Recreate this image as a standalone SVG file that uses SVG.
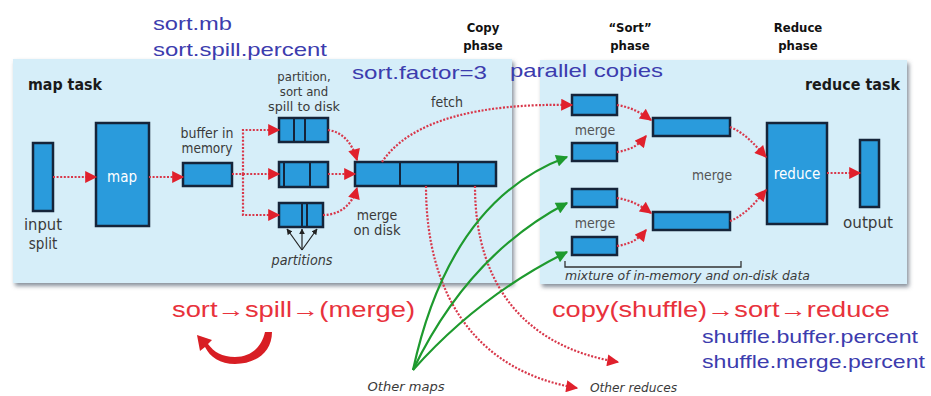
<svg xmlns="http://www.w3.org/2000/svg" width="931" height="396" viewBox="0 0 931 396">
<style>
.panel{fill:#d6eef9}
.box{fill:#2a9bdc;stroke:#15243a;stroke-width:2.5}
.div{stroke:#15243a;stroke-width:2}
.red{fill:none;stroke:#d8374a;stroke-width:2.2;stroke-dasharray:2 1.6}
.grn{fill:none;stroke:#1e9a2e;stroke-width:2.2}
.lbl{font-family:"DejaVu Sans Condensed","Liberation Sans Narrow","Liberation Sans",sans-serif;font-size:14px;fill:#3a3a3a;text-anchor:middle}
.it{font-style:italic}
.hd{font-family:"DejaVu Sans Condensed","Liberation Sans",sans-serif;font-size:13px;font-weight:bold;fill:#111;text-anchor:middle}
.task{font-family:"DejaVu Sans Condensed","Liberation Sans",sans-serif;font-size:15px;font-weight:bold;fill:#1a1a1a}
.wt{font-family:"DejaVu Sans Condensed","Liberation Sans",sans-serif;font-size:15px;fill:#ffffff;text-anchor:middle}
.blue{font-family:"Liberation Sans",Arial,sans-serif;font-size:19px;fill:#3c3cae}
.rt{font-family:"Liberation Sans",Arial,sans-serif;font-size:22px;fill:#e8323c}
</style>
<defs>
<filter id="sh" x="-5%" y="-5%" width="110%" height="115%">
<feDropShadow dx="2" dy="3" stdDeviation="2" flood-color="#556070" flood-opacity="0.7"/>
</filter>
<marker id="ra" viewBox="0 0 10 10" refX="9" refY="5" markerWidth="13" markerHeight="12" markerUnits="userSpaceOnUse" orient="auto">
<path d="M0,0 L10,5 L0,10 z" fill="#e0202c"/>
</marker>
<marker id="ga" viewBox="0 0 10 10" refX="9" refY="5" markerWidth="13" markerHeight="12" markerUnits="userSpaceOnUse" orient="auto">
<path d="M0,0 L10,5 L0,10 z" fill="#1e9a2e"/>
</marker>
<marker id="ka" viewBox="0 0 10 10" refX="9" refY="5" markerWidth="6" markerHeight="6" markerUnits="userSpaceOnUse" orient="auto">
<path d="M0,0 L10,5 L0,10 z" fill="#222"/>
</marker>
</defs>
<rect width="931" height="396" fill="#ffffff"/>

<g id="map-task">
<rect class="panel" x="13" y="59" width="499" height="224" filter="url(#sh)"/>
<text class="task" x="28" y="90" textLength="74" lengthAdjust="spacingAndGlyphs">map task</text>
</g>
<g id="reduce-task">
<rect class="panel" x="540" y="60" width="367" height="224" filter="url(#sh)"/>
<text class="task" x="805" y="90" textLength="95" lengthAdjust="spacingAndGlyphs">reduce task</text>
</g>

<g id="phase-labels">
<text class="hd" x="483" y="32">Copy</text>
<text class="hd" x="483" y="50">phase</text>
<text class="hd" x="630" y="32">“Sort”</text>
<text class="hd" x="630" y="50">phase</text>
<text class="hd" x="798" y="32">Reduce</text>
<text class="hd" x="798" y="50">phase</text>
</g>

<g id="params">
<text class="blue" x="153" y="30" textLength="79" lengthAdjust="spacingAndGlyphs">sort.mb</text>
<text class="blue" x="153" y="56" textLength="174" lengthAdjust="spacingAndGlyphs">sort.spill.percent</text>
<text class="blue" x="352" y="79" textLength="135" lengthAdjust="spacingAndGlyphs">sort.factor=3</text>
<text class="blue" x="510" y="77" textLength="153" lengthAdjust="spacingAndGlyphs">parallel  copies</text>
<text class="blue" x="702" y="343" textLength="216" lengthAdjust="spacingAndGlyphs">shuffle.buffer.percent</text>
<text class="blue" x="702" y="368" textLength="223" lengthAdjust="spacingAndGlyphs">shuffle.merge.percent</text>
</g>

<g id="input-split">
<rect class="box" x="33" y="143" width="20" height="68"/>
<text class="lbl" x="43" y="230" style="font-size:15px" textLength="38" lengthAdjust="spacingAndGlyphs">input</text>
<text class="lbl" x="43" y="249" style="font-size:15px">split</text>
</g>
<g id="map">
<rect class="box" x="96" y="123" width="53" height="103"/>
<text class="wt" x="122" y="182">map</text>
</g>
<g id="buffer">
<rect class="box" x="183" y="163" width="49" height="23"/>
<text class="lbl" x="207" y="138" textLength="53" lengthAdjust="spacingAndGlyphs">buffer in</text>
<text class="lbl" x="207" y="153" textLength="51" lengthAdjust="spacingAndGlyphs">memory</text>
</g>
<g id="spill-1">
<rect class="box" x="279" y="118" width="49" height="24"/>
<line class="div" x1="294" y1="118" x2="294" y2="142"/>
<line class="div" x1="305" y1="118" x2="305" y2="142"/>
<text class="lbl" x="304" y="81" style="font-size:13px">partition,</text>
<text class="lbl" x="304" y="96" style="font-size:13px">sort and</text>
<text class="lbl" x="304" y="111" style="font-size:13px" textLength="72" lengthAdjust="spacingAndGlyphs">spill to disk</text>
</g>
<g id="spill-2">
<rect class="box" x="279" y="162" width="49" height="25"/>
<line class="div" x1="284" y1="162" x2="284" y2="187"/>
<line class="div" x1="310" y1="162" x2="310" y2="187"/>
</g>
<g id="spill-3">
<rect class="box" x="279" y="203" width="44" height="24"/>
<line class="div" x1="302" y1="203" x2="302" y2="227"/>
<line class="div" x1="307" y1="203" x2="307" y2="227"/>
<text class="lbl it" x="302" y="265" textLength="61" lengthAdjust="spacingAndGlyphs">partitions</text>
</g>
<g id="merged-map-output">
<rect class="box" x="355" y="162" width="141" height="24"/>
<line class="div" x1="400" y1="162" x2="400" y2="186"/>
<line class="div" x1="458" y1="162" x2="458" y2="186"/>
<text class="lbl" x="377" y="220">merge</text>
<text class="lbl" x="377" y="235" textLength="47" lengthAdjust="spacingAndGlyphs">on disk</text>
<text class="lbl" x="447" y="107">fetch</text>
</g>

<g id="copy-1">
<rect class="box" x="572" y="95" width="45" height="20"/>
<text class="lbl" x="595" y="135" style="fill:#555">merge</text>
</g>
<g id="copy-2"><rect class="box" x="572" y="143" width="45" height="18"/></g>
<g id="copy-3">
<rect class="box" x="572" y="189" width="45" height="18"/>
<text class="lbl" x="595" y="228" style="fill:#555">merge</text>
</g>
<g id="copy-4"><rect class="box" x="572" y="237" width="45" height="18"/></g>
<g id="merged-top"><rect class="box" x="653" y="118" width="77" height="18"/></g>
<g id="merged-bottom"><rect class="box" x="653" y="212" width="77" height="18"/></g>
<g id="merge-label"><text class="lbl" x="712" y="180" style="fill:#555" textLength="40" lengthAdjust="spacingAndGlyphs">merge</text></g>
<g id="reduce">
<rect class="box" x="767" y="123" width="60" height="101"/>
<text class="wt" x="797" y="179">reduce</text>
</g>
<g id="output">
<rect class="box" x="860" y="140" width="19" height="67"/>
<text class="lbl" x="868" y="228" style="font-size:16px" textLength="50" lengthAdjust="spacingAndGlyphs">output</text>
</g>
<g id="mixture">
<path d="M565,261 V267 H741 V261" fill="none" stroke="#333" stroke-width="1.3"/>
<text class="lbl it" x="565" y="280" style="text-anchor:start;font-size:13px" textLength="245" lengthAdjust="spacingAndGlyphs">mixture of in-memory and on-disk data</text>
</g>

<g id="other-maps"><text class="lbl it" x="406" y="391" style="font-size:13px" textLength="77" lengthAdjust="spacingAndGlyphs">Other maps</text></g>
<g id="other-reduces"><text class="lbl it" x="590" y="392" style="font-size:13px;text-anchor:start" textLength="87" lengthAdjust="spacingAndGlyphs">Other reduces</text></g>

<g id="summary">
<text class="rt" x="172" y="317" textLength="243" lengthAdjust="spacingAndGlyphs">sort→spill→(merge)</text>
<text class="rt" x="552" y="317" textLength="338" lengthAdjust="spacingAndGlyphs">copy(shuffle)→sort→reduce</text>
<path d="M272,332 C272,352 256,364 235,364 C220,364 210,357 205,347 L200,351 L197,335 L212,340 L208,344 C214,352 222,357 235,357 C252,357 262,346 265,332 Z" fill="#d81e24"/>
</g>

<g id="connectors">
<path class="red" d="M53,177 H96" marker-end="url(#ra)"/>
<path class="red" d="M149,177 H183" marker-end="url(#ra)"/>
<path class="red" d="M232,174 H243 V130 H279" marker-end="url(#ra)"/>
<path class="red" d="M243,174 H279" marker-end="url(#ra)"/>
<path class="red" d="M243,174 V215 H279" marker-end="url(#ra)"/>
<path class="red" d="M328,130 C342,132 352,142 357,160" marker-end="url(#ra)"/>
<path class="red" d="M328,174 H355" marker-end="url(#ra)"/>
<path class="red" d="M323,215 C340,215 352,205 357,188" marker-end="url(#ra)"/>
<path class="red" d="M382,162 C410,120 480,103 572,105" marker-end="url(#ra)"/>
<path class="red" d="M426,186 C426,300 480,372 577,388" marker-end="url(#ra)"/>
<path class="red" d="M475,186 C475,290 530,348 618,362" marker-end="url(#ra)"/>
<path class="red" d="M617,105 C630,107 640,112 651,120" marker-end="url(#ra)"/>
<path class="red" d="M617,152 C630,150 638,146 646,136" marker-end="url(#ra)"/>
<path class="red" d="M617,198 C630,200 640,205 651,213" marker-end="url(#ra)"/>
<path class="red" d="M617,246 C630,244 638,240 646,230" marker-end="url(#ra)"/>
<path class="red" d="M730,127 C745,133 755,145 766,157" marker-end="url(#ra)"/>
<path class="red" d="M730,221 C745,215 755,203 766,190" marker-end="url(#ra)"/>
<path class="red" d="M827,173 H860" marker-end="url(#ra)"/>
<path class="grn" d="M413,370 Q450,200 567,157" marker-end="url(#ga)"/>
<path class="grn" d="M413,370 Q468,255 567,203" marker-end="url(#ga)"/>
<path class="grn" d="M413,370 Q480,295 567,252" marker-end="url(#ga)"/>
<path d="M302,250 L287,229" fill="none" stroke="#222" stroke-width="1.2" marker-end="url(#ka)"/>
<path d="M302,250 L302,229" fill="none" stroke="#222" stroke-width="1.2" marker-end="url(#ka)"/>
<path d="M302,250 L317,229" fill="none" stroke="#222" stroke-width="1.2" marker-end="url(#ka)"/>
</g>
</svg>
